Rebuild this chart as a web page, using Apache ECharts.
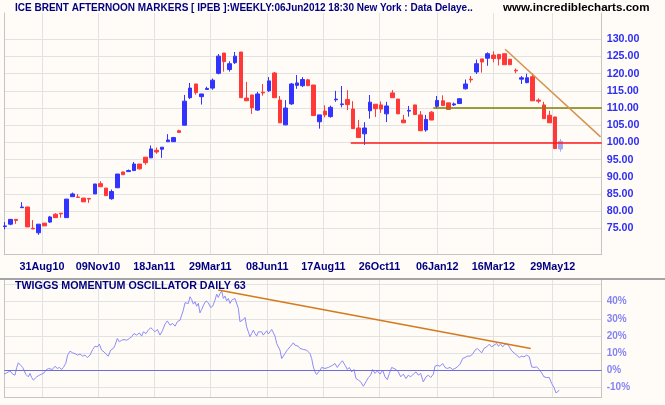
<!DOCTYPE html>
<html><head><meta charset="utf-8">
<script src="https://cdn.jsdelivr.net/npm/echarts@6/dist/echarts.min.js"></script>
<style>html,body{margin:0;padding:0;background:#fffbf6;}#c{width:665px;height:405px;}</style>
</head><body><div id="c"></div>
<script>
// ---------------- data ----------------
const titleText = 'ICE BRENT AFTERNOON MARKERS [ IPEB ]:WEEKLY:06Jun2012 18:30 New York : Data Delaye..';
const siteText = 'www.incrediblecharts.com';
const oscTitle = 'TWIGGS MOMENTUM OSCILLATOR DAILY 63';

const firstBarDate = '2010-07-16';   // weekly bars, one per week from here
const tickDates  = ['2010-08-31','2010-11-09','2011-01-18','2011-03-29','2011-06-08','2011-08-17','2011-10-26','2012-01-06','2012-03-16','2012-05-29'];
const tickLabels = ['31Aug10','09Nov10','18Jan11','29Mar11','08Jun11','17Aug11','26Oct11','06Jan12','16Mar12','29May12'];

const opens = [75.5,76.2,77.6,81.0,81.2,75.0,73.7,76.5,76.8,79.1, 79.4,78.1,84.2,84.1,83.8,83.7,85.0,88.0,86.7,83.6,
  86.8,91.4,91.5,91.8,93.7,95.7,95.5,97.7,98.0,100.2, 100.2,103.4,105.0,113.0,117.0,113.3,115.4,115.8,120.1,126.0,
  121.2,123.2,126.3,112.9,113.8,109.4,114.6,115.0,120.2,112.3, 105.1,111.2,116.6,116.5,118.2,116.7,106.0,109.1,107.5,112.4,
  111.0,112.5,109.7,104.2,102.5,109.2,111.1,110.9,108.3,114.4, 112.6,106.5,109.1,110.9,108.0,103.6,108.8,110.5,112.1,111.5,
  110.9,111.3,115.6,118.4,120.5,124.3,124.5,125.4,125.6,125.8, 124.2,121.0,118.4,117.4,119.1,112.3,110.9,107.9,107.4,98.1];
const closes = [75.7,77.6,77.3,81.2,75.4,74.8,76.2,75.7,78.3,78.1, 79.2,83.5,85.0,84.0,82.7,83.5,87.9,87.1,84.5,85.7,
  90.8,90.6,91.8,93.7,92.3,94.1,98.1,97.2,98.6,100.7, 101.4,102.9,112.0,115.8,114.5,114.1,115.7,118.1,125.1,123.5,
  122.9,125.1,113.0,112.1,110.1,114.1,114.4,117.9,113.0,105.7, 110.0,117.0,117.3,118.3,116.5,107.8,108.0,108.0,110.2,112.6,
  111.2,111.0,104.0,101.4,104.2,111.7,109.8,109.7,110.6,113.0, 108.3,105.7,109.3,108.1,103.4,106.7,106.5,112.2,110.7,109.6,
  111.2,112.7,117.0,118.2,122.9,123.4,125.8,124.4,124.3,122.6, 122.6,120.8,118.8,118.8,112.1,112.0,106.9,105.7,98.2,100.3];
const lows = [74.7,75.9,76.3,81.0,75.4,74.8,73.1,75.7,76.6,78.1, 78.1,78.1,84.2,84.0,82.7,82.4,85.0,87.1,84.5,83.3,
  86.8,90.6,91.5,91.8,92.1,93.5,95.5,96.7,95.5,100.2, 100.2,102.9,105.0,112.6,113.9,111.0,115.4,115.3,119.8,120.6,
  120.6,122.8,113.0,112.1,108.3,109.2,113.6,114.7,113.0,105.7, 105.0,110.9,115.6,116.1,116.5,107.8,104.0,107.3,107.2,111.8,
  110.2,109.4,104.0,101.3,99.3,106.9,107.4,108.6,105.9,113.0, 108.3,105.7,107.5,108.1,103.4,103.1,106.5,109.9,110.7,109.6,
  110.6,111.3,115.4,117.4,119.9,120.3,122.3,123.3,122.4,122.6, 122.6,120.1,117.0,117.2,112.1,111.4,106.9,105.7,98.2,97.3];
const highs = [76.8,77.6,77.6,82.6,81.2,77.4,76.2,76.5,78.6,79.4, 79.4,83.5,85.4,85.0,83.8,83.7,87.9,88.7,86.7,86.3,
  90.8,91.4,92.1,94.3,93.7,95.7,99.1,98.5,98.6,102.4, 101.6,103.7,113.8,117.3,117.0,114.1,116.2,118.6,125.7,126.0,
  123.6,126.3,126.3,117.6,113.8,114.7,117.0,119.0,120.5,113.5, 112.3,117.3,119.6,119.0,118.5,116.7,108.0,110.8,110.7,115.0,
  116.4,115.2,112.0,106.5,105.9,113.8,111.1,111.9,111.8,115.2, 112.6,108.0,110.6,110.9,109.1,108.0,109.1,113.5,113.7,111.5,
  111.6,112.9,118.3,119.3,124.1,124.3,126.2,126.5,125.6,125.8, 124.2,121.5,119.3,120.0,120.1,112.8,111.8,109.2,107.4,101.0];

// annotation lines (x in weeks since first bar)
const supportLine = {price: 100, fromWeek: 61.6};
const resistanceLine = {price: 110, fromWeek: 76.3};
const priceTrend = [[89.1, 127.1], [106.1, 101.6]];

// oscillator readings [week, percent]
const oscPoints = [[-0.18,-2.3],[0.30,-1.6],[0.89,-0.4],[1.37,-2.3],[1.78,-2.9],[2.08,1.6],[2.38,4.3],[2.79,2.9],[3.15,1.6],[3.38,0],
[3.74,-2.5],[4.16,-3.9],[4.45,-1.9],[4.75,-4.3],[5.05,-5.8],[5.34,-6.8],[5.64,-3.9],[6.12,-2.9],[6.53,-2.3],[6.95,-1.6],
[7.30,0],[7.72,1.0],[8.02,1.6],[8.43,0.4],[8.91,2.3],[9.32,1.0],[9.68,1.6],[10.10,0.4],[10.39,1.6],[10.81,3.9],
[11.16,8.8],[11.58,11.1],[12.05,10.1],[12.47,9.7],[12.89,8.8],[13.36,9.4],[13.84,8.2],[14.25,8.8],[14.67,7.4],[15.14,8.8],
[15.62,12.1],[16.03,14.0],[16.45,13.6],[16.81,15.2],[17.22,11.7],[17.64,10.7],[17.99,9.4],[18.41,8.2],[18.82,11.7],[19.30,12.7],
[19.60,14.6],[20.01,18.5],[20.37,16.6],[20.78,17.5],[21.20,17.9],[21.67,17.5],[22.15,18.5],[22.57,19.5],[22.98,21.4],[23.46,20.5],
[23.93,21.8],[24.35,19.9],[24.64,22.4],[25.12,21.4],[25.53,23.4],[25.95,24.8],[26.31,23.8],[26.72,22.4],[27.14,23.8],[27.61,20.5],
[28.09,23.4],[28.50,26.9],[28.92,28.8],[29.39,26.3],[29.87,27.3],[30.29,25.7],[30.70,28.3],[31.18,29.2],[31.47,30.2],[31.77,35.1],
[32.07,39.4],[32.36,40.5],[32.66,39.0],[32.96,42.9],[33.25,41.3],[33.55,38.6],[33.85,40.0],[34.14,37.4],[34.44,39.0],[34.74,33.5],
[35.04,35.5],[35.45,38.6],[35.81,40.5],[36.22,39.4],[36.64,36.6],[37.00,37.4],[37.41,40.9],[37.71,44.4],[38.00,42.5],[38.30,44.8],
[38.60,46.2],[38.90,41.9],[39.19,43.3],[39.49,40.5],[39.79,41.9],[40.08,39.0],[40.38,40.9],[40.68,40.0],[40.97,41.9],[41.27,42.9],
[41.57,36.1],[41.86,28.3],[42.16,27.3],[42.46,29.6],[42.76,30.8],[43.05,25.3],[43.35,22.4],[43.65,19.5],[43.94,21.4],[44.24,23.4],
[44.54,21.4],[44.83,19.9],[45.13,22.4],[45.43,23.4],[45.72,22.4],[46.02,20.5],[46.32,21.4],[46.62,23.0],[46.91,21.1],[47.21,21.4],
[47.51,23.8],[47.80,24.4],[48.10,19.9],[48.40,15.6],[48.69,16.0],[48.99,11.7],[49.29,6.8],[49.58,7.8],[49.88,9.7],[50.18,11.3],
[50.48,12.1],[50.77,13.6],[51.07,14.6],[51.37,16.0],[51.66,14.6],[51.96,13.6],[52.26,14.0],[52.55,12.7],[52.85,13.6],[53.15,12.1],
[53.44,12.7],[53.74,11.7],[54.04,11.3],[54.33,9.7],[54.63,6.8],[54.93,1.9],[55.23,-1.0],[55.52,-2.5],[55.82,-2.9],[56.12,0],
[56.41,1.6],[56.71,2.3],[57.01,1.0],[57.30,0.4],[57.60,1.6],[57.90,1.6],[58.37,2.9],[58.79,3.9],[59.20,1.6],[59.68,3.9],
[60.10,5.5],[60.57,2.9],[60.99,0.4],[61.34,1.6],[61.76,-1.0],[62.17,0.4],[62.53,-4.9],[62.95,-5.8],[63.36,-6.8],[63.84,-9.4],
[64.31,-6.8],[64.73,-4.3],[65.14,-2.9],[65.50,0.4],[65.91,-1.9],[66.33,-0.4],[66.81,-2.3],[67.28,0],[67.70,-3.9],[68.11,-5.5],
[68.47,-1.9],[68.88,1.6],[69.30,1.0],[69.66,0.4],[70.07,-1.0],[70.49,-3.9],[70.96,-2.3],[71.44,-4.9],[71.85,-2.9],[72.27,-3.9],
[72.74,-2.3],[73.22,-1.0],[73.63,-2.9],[74.05,-1.9],[74.52,-6.8],[75.00,-3.9],[75.42,-2.9],[75.83,-4.3],[76.31,-2.3],[76.60,2.3],
[77.02,2.9],[77.49,2.3],[77.97,3.9],[78.38,1.6],[78.80,1.0],[79.28,1.6],[79.75,0.4],[80.17,1.0],[80.58,1.9],[81.06,3.5],
[81.53,6.8],[81.95,7.4],[82.36,8.2],[82.84,8.2],[83.31,9.4],[83.73,11.7],[84.15,12.7],[84.50,11.7],[84.92,10.1],[85.33,12.7],
[85.81,13.6],[86.28,15.2],[86.70,13.6],[87.11,14.6],[87.59,15.6],[87.89,14.0],[88.30,15.2],[88.66,13.6],[89.07,15.2],[89.49,15.2],
[89.85,13.6],[90.26,11.3],[90.68,10.1],[91.15,8.8],[91.63,7.4],[92.04,8.2],[92.46,7.8],[92.93,8.8],[93.41,7.8],[93.82,1.9],
[94.24,1.6],[94.71,1.9],[95.19,0.4],[95.61,-1.6],[96.02,-3.9],[96.50,-4.3],[96.97,-4.3],[97.39,-7.8],[97.80,-10.1],[98.16,-13.3],
[98.40,-12.7],[98.75,-11.7]];
const oscTrend = [[38.0, 46.8], [93.66, 12.7]];

// ---------------- build ----------------
const WEEK = 7 * 86400000;
const t0 = Date.parse(firstBarDate);
const tickWeeks = tickDates.map(d => (Date.parse(d) - t0) / WEEK);
const tickLabelOf = v => {
  let best = 0;
  tickWeeks.forEach((w, i) => { if (Math.abs(w - v) < Math.abs(tickWeeks[best] - v)) best = i; });
  return tickLabels[best];
};
const candleData = opens.map((o, i) => {
  const item = {value: [i, o, closes[i], lows[i], highs[i]]};
  if (i === opens.length - 1) item.itemStyle = {color: '#a4aaf2', color0: '#a4aaf2', borderColor: '#a4aaf2', borderColor0: '#a4aaf2'};
  return item;
});

const FONT = 'Liberation Sans, Arial, sans-serif';
const GRID_C = '#e2e2e2', FRAME_C = '#c4c4c4';
const L = 4.3, W = 597.4, XMIN = -0.125, XMAX = 106.3;

const hiddenX = i => ({type: 'value', gridIndex: i, min: XMIN, max: XMAX, show: false});
const frameX = (i, labels) => ({
  type: 'value', gridIndex: i, min: XMIN, max: XMAX, position: 'bottom',
  axisLine: {show: true, lineStyle: {color: FRAME_C, width: 1}},
  axisTick: {show: false, customValues: tickWeeks},
  axisLabel: labels ? {show: true, customValues: tickWeeks, formatter: v => tickLabelOf(v), margin: 12,
    verticalAlign: 'middle', color: '#000080', fontWeight: 'bold', fontSize: 10.8, fontFamily: FONT} : {show: false},
  splitLine: {show: true, lineStyle: {color: GRID_C, width: 1}}
});
const frameY = (i, pos) => ({
  type: 'value', gridIndex: i, min: 0, max: 1, position: pos,
  axisLine: {show: true, onZero: false, lineStyle: {color: FRAME_C, width: 1}},
  axisTick: {show: false}, axisLabel: {show: false}, splitLine: {show: false}
});

const option = {
  animation: false,
  backgroundColor: '#fffbf6',
  grid: [
    {left: L, width: W, top: 39.3, height: 189, outerBoundsMode: 'none'},   // candles
    {left: L, width: W, top: 13, height: 241.7, outerBoundsMode: 'none'},   // price frame
    {left: L, width: W, top: 284.6, height: 102.7, outerBoundsMode: 'none'},// oscillator
    {left: L, width: W, top: 279.5, height: 117.8, outerBoundsMode: 'none'} // osc frame
  ],
  xAxis: [hiddenX(0), frameX(1, true), hiddenX(2), frameX(3, false)],
  yAxis: [
    {type: 'value', gridIndex: 0, min: 75, max: 130, interval: 5, position: 'right',
      axisLine: {show: false}, axisTick: {show: false},
      axisLabel: {margin: 5, formatter: v => v.toFixed(2), color: '#2e2ef2', fontWeight: 'bold', fontSize: 10.7, fontFamily: FONT},
      splitLine: {show: true, lineStyle: {color: GRID_C, width: 1}}},
    frameY(1, 'left'), frameY(1, 'right'),
    {type: 'value', gridIndex: 2, min: -10, max: 50, interval: 10, position: 'right',
      axisLine: {show: false}, axisTick: {show: false},
      axisLabel: {margin: 5, formatter: v => (v === 50 ? '' : v + '%'), color: '#8484f4', fontWeight: 'bold', fontSize: 10, fontFamily: FONT},
      splitLine: {show: true, lineStyle: {color: GRID_C, width: 1}}},
    frameY(3, 'left'), frameY(3, 'right')
  ],
  series: [
    {type: 'line', xAxisIndex: 0, yAxisIndex: 0, data: [], z: 1, silent: true,
      markLine: {silent: true, symbol: 'none', label: {show: false}, animation: false,
        data: [
          [{coord: [supportLine.fromWeek, supportLine.price], lineStyle: {color: '#ff1a1a', width: 1.5, type: 'solid'}}, {coord: [XMAX, supportLine.price]}],
          [{coord: [resistanceLine.fromWeek, resistanceLine.price], lineStyle: {color: '#808000', width: 1.5, type: 'solid'}}, {coord: [XMAX, resistanceLine.price]}],
          [{coord: priceTrend[0], lineStyle: {color: '#d49450', width: 1.5, type: 'solid'}}, {coord: priceTrend[1]}]
        ]}},
    {type: 'candlestick', xAxisIndex: 0, yAxisIndex: 0, z: 3, clip: false, barWidth: 4,
      itemStyle: {color: '#3333ff', color0: '#ff3838', borderColor: '#3333ff', borderColor0: '#ff3838', borderWidth: 1},
      data: candleData},
    {type: 'line', xAxisIndex: 2, yAxisIndex: 3, data: oscPoints, showSymbol: false, clip: false, z: 3,
      lineStyle: {color: '#8c8cfa', width: 1},
      markLine: {silent: true, symbol: 'none', label: {show: false}, animation: false,
        data: [
          [{coord: [XMIN, 0], lineStyle: {color: '#6d6dd8', width: 1.2, type: 'solid'}}, {coord: [XMAX, 0]}],
          [{coord: oscTrend[0], lineStyle: {color: '#d47a1c', width: 1.5, type: 'solid'}}, {coord: oscTrend[1]}]
        ]}}
  ],
  graphic: [
    {type: 'line', shape: {x1: 0, y1: 279, x2: 665, y2: 279}, style: {stroke: '#a4a4a4', lineWidth: 2}, z: 10},
    {type: 'text', x: 15, y: 8, style: {text: titleText, fill: '#000080', font: 'bold 10px ' + FONT, verticalAlign: 'middle'}, z: 10},
    {type: 'text', x: 503, y: 7.5, style: {text: siteText, fill: '#000000', font: 'bold 11.6px ' + FONT, verticalAlign: 'middle'}, z: 10},
    {type: 'text', x: 15, y: 286, style: {text: oscTitle, fill: '#000080', font: 'bold 10.7px ' + FONT, verticalAlign: 'middle'}, z: 10}
  ]
};
const chart = echarts.init(document.getElementById('c'), null, {renderer: 'canvas'});
chart.setOption(option);
</script></body></html>
